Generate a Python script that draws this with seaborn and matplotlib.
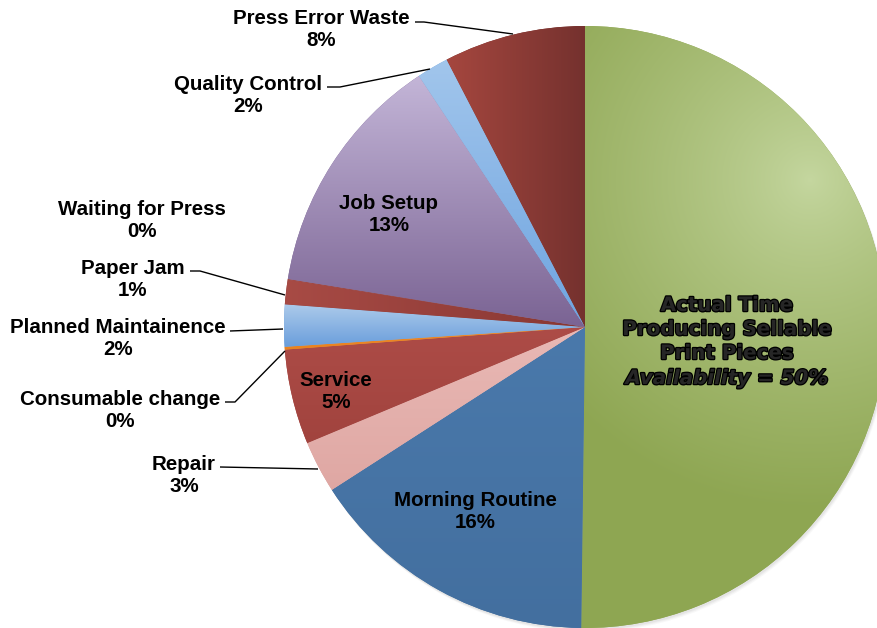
import numpy as np
import matplotlib
matplotlib.use("Agg")
import matplotlib.pyplot as plt
import matplotlib.patheffects as pe
from matplotlib.colors import to_rgb
import seaborn as sns

# Share of press time, in percent, going clockwise from 12 o'clock
categories = [
    "Actual Time", "Morning Routine", "Repair", "Service", "Consumable change",
    "Planned Maintainence", "Paper Jam", "Waiting for Press", "Job Setup",
    "Quality Control", "Press Error Waste",
]
shares = [50.2, 15.7, 2.8, 5.1, 0.15, 2.25, 1.3, 0.05, 13.15, 1.7, 7.6]
headline = ["Actual Time", "Producing Sellable", "Print Pieces"]
headline_metric = "Availability"

# (start colour, end colour, gradient kind) for each slice
shading = [
    ("#c5d7a0", "#8ea652", "radial"),
    ("#4a79ab", "#436f9f", "v"),
    ("#e9b9b5", "#dfa7a3", "v"),
    ("#ad4c47", "#a1433e", "v"),
    ("#f08c2c", "#e8821f", "v"),
    ("#aecbeb", "#689ddb", "v"),
    ("#a84b45", "#883733", "h"),
    ("#a84b45", "#883733", "h"),
    ("#c4b6d8", "#7a6393", "v"),
    ("#a2c6ec", "#6ea4e0", "v"),
    ("#a6473f", "#74312e", "h"),
]

W, H = 878, 628
CX, CY, R = 585, 327, 301

sns.set_theme(style="white")
plt.rcParams["font.family"] = ["Liberation Sans", "DejaVu Sans"]

fig = plt.figure(figsize=(W / 100, H / 100), dpi=100)
ax = fig.add_axes([0, 0, 1, 1])

# soft shadow under the pie
for k, a in [(4, 0.05), (3, 0.07), (2, 0.09)]:
    ax.add_patch(plt.Circle((CX + k * 0.6, CY + k), R, color="#7f7f7f",
                            alpha=a, lw=0, zorder=0))

# y axis runs downward, so counterclock=True turns clockwise on screen
wedges, _ = ax.pie(
    shares, startangle=-90, counterclock=True, center=(CX, CY), radius=R,
    colors=[s[1] for s in shading], wedgeprops=dict(linewidth=0),
    frame=True,
)


def shade_wedge(w, c0, c1, kind):
    bb = w.get_path().get_extents(w.get_patch_transform())
    x0, x1 = int(np.floor(bb.x0)) - 1, int(np.ceil(bb.x1)) + 1
    y0, y1 = int(np.floor(bb.y0)) - 1, int(np.ceil(bb.y1)) + 1
    xs = np.arange(x0, x1) + 0.5
    ys = np.arange(y0, y1) + 0.5
    X, Y = np.meshgrid(xs, ys)
    if kind == "radial":
        d = np.hypot(X - 810, Y - 180)
        t = np.clip(d / 330.0, 0, 1) ** 0.8
    elif kind == "h":
        t = (X - x0) / max(x1 - x0, 1)
    else:
        t = (Y - y0) / max(y1 - y0, 1)
    a, b = np.array(to_rgb(c0)), np.array(to_rgb(c1))
    img = a[None, None, :] * (1 - t[..., None]) + b[None, None, :] * t[..., None]
    im = ax.imshow(img, extent=(x0, x1, y1, y0), origin="upper",
                   interpolation="bilinear", zorder=w.get_zorder() + 0.05)
    im.set_clip_path(w)


for w, (c0, c1, kind) in zip(wedges, shading):
    w.set_zorder(1)
    shade_wedge(w, c0, c1, kind)

total = sum(shares)
pct = [round(v / total * 100) for v in shares]

label_font = dict(fontsize=14.8, fontweight="bold", color="black",
                  ha="center", va="baseline", multialignment="center",
                  linespacing=1.17, zorder=5)

# (x centre, baseline of the percent line) for each label, in pixels
label_pos = {
    "Morning Routine": (475, 528),
    "Repair": (184, 492),
    "Service": (336, 408),
    "Consumable change": (120, 427),
    "Planned Maintainence": (118, 355),
    "Paper Jam": (133, 296),
    "Waiting for Press": (142, 237),
    "Job Setup": (389, 231),
    "Quality Control": (248, 112),
    "Press Error Waste": (321, 46),
}
for name, p in zip(categories, pct):
    if name in label_pos:
        x, y = label_pos[name]
        ax.text(x, y, f"{name}\n{p}%", **label_font)

# leader lines from outside labels to their slices
leaders = [
    [(415, 22), (424, 22), (513, 34)],
    [(327, 87), (340, 87), (430, 69)],
    [(190, 271), (200, 271), (285, 295)],
    [(230, 331), (283, 329)],
    [(225, 402), (235, 402), (285, 351)],
    [(220, 467), (318, 469)],
]
for pts in leaders:
    xs, ys = zip(*pts)
    ax.plot(xs, ys, color="black", lw=1.0, zorder=4, solid_capstyle="butt")

# headline inside the main slice
heavy = [pe.withStroke(linewidth=1.8, foreground="black")]
for i, line in enumerate(headline):
    ax.text(727, 311 + 24 * i, line, fontsize=14.3, fontweight="bold",
            family="DejaVu Sans", ha="center", va="baseline", zorder=5,
            path_effects=heavy)
ax.text(727, 384, f"{headline_metric} = {pct[0]}%", fontsize=14.3,
        fontweight="bold", fontstyle="italic", family="DejaVu Sans",
        ha="center", va="baseline", zorder=5, path_effects=heavy)

ax.set_xlim(0, W)
ax.set_ylim(H, 0)
ax.set_aspect("equal")
ax.axis("off")

fig.savefig("out.png", dpi=100, facecolor="white")
